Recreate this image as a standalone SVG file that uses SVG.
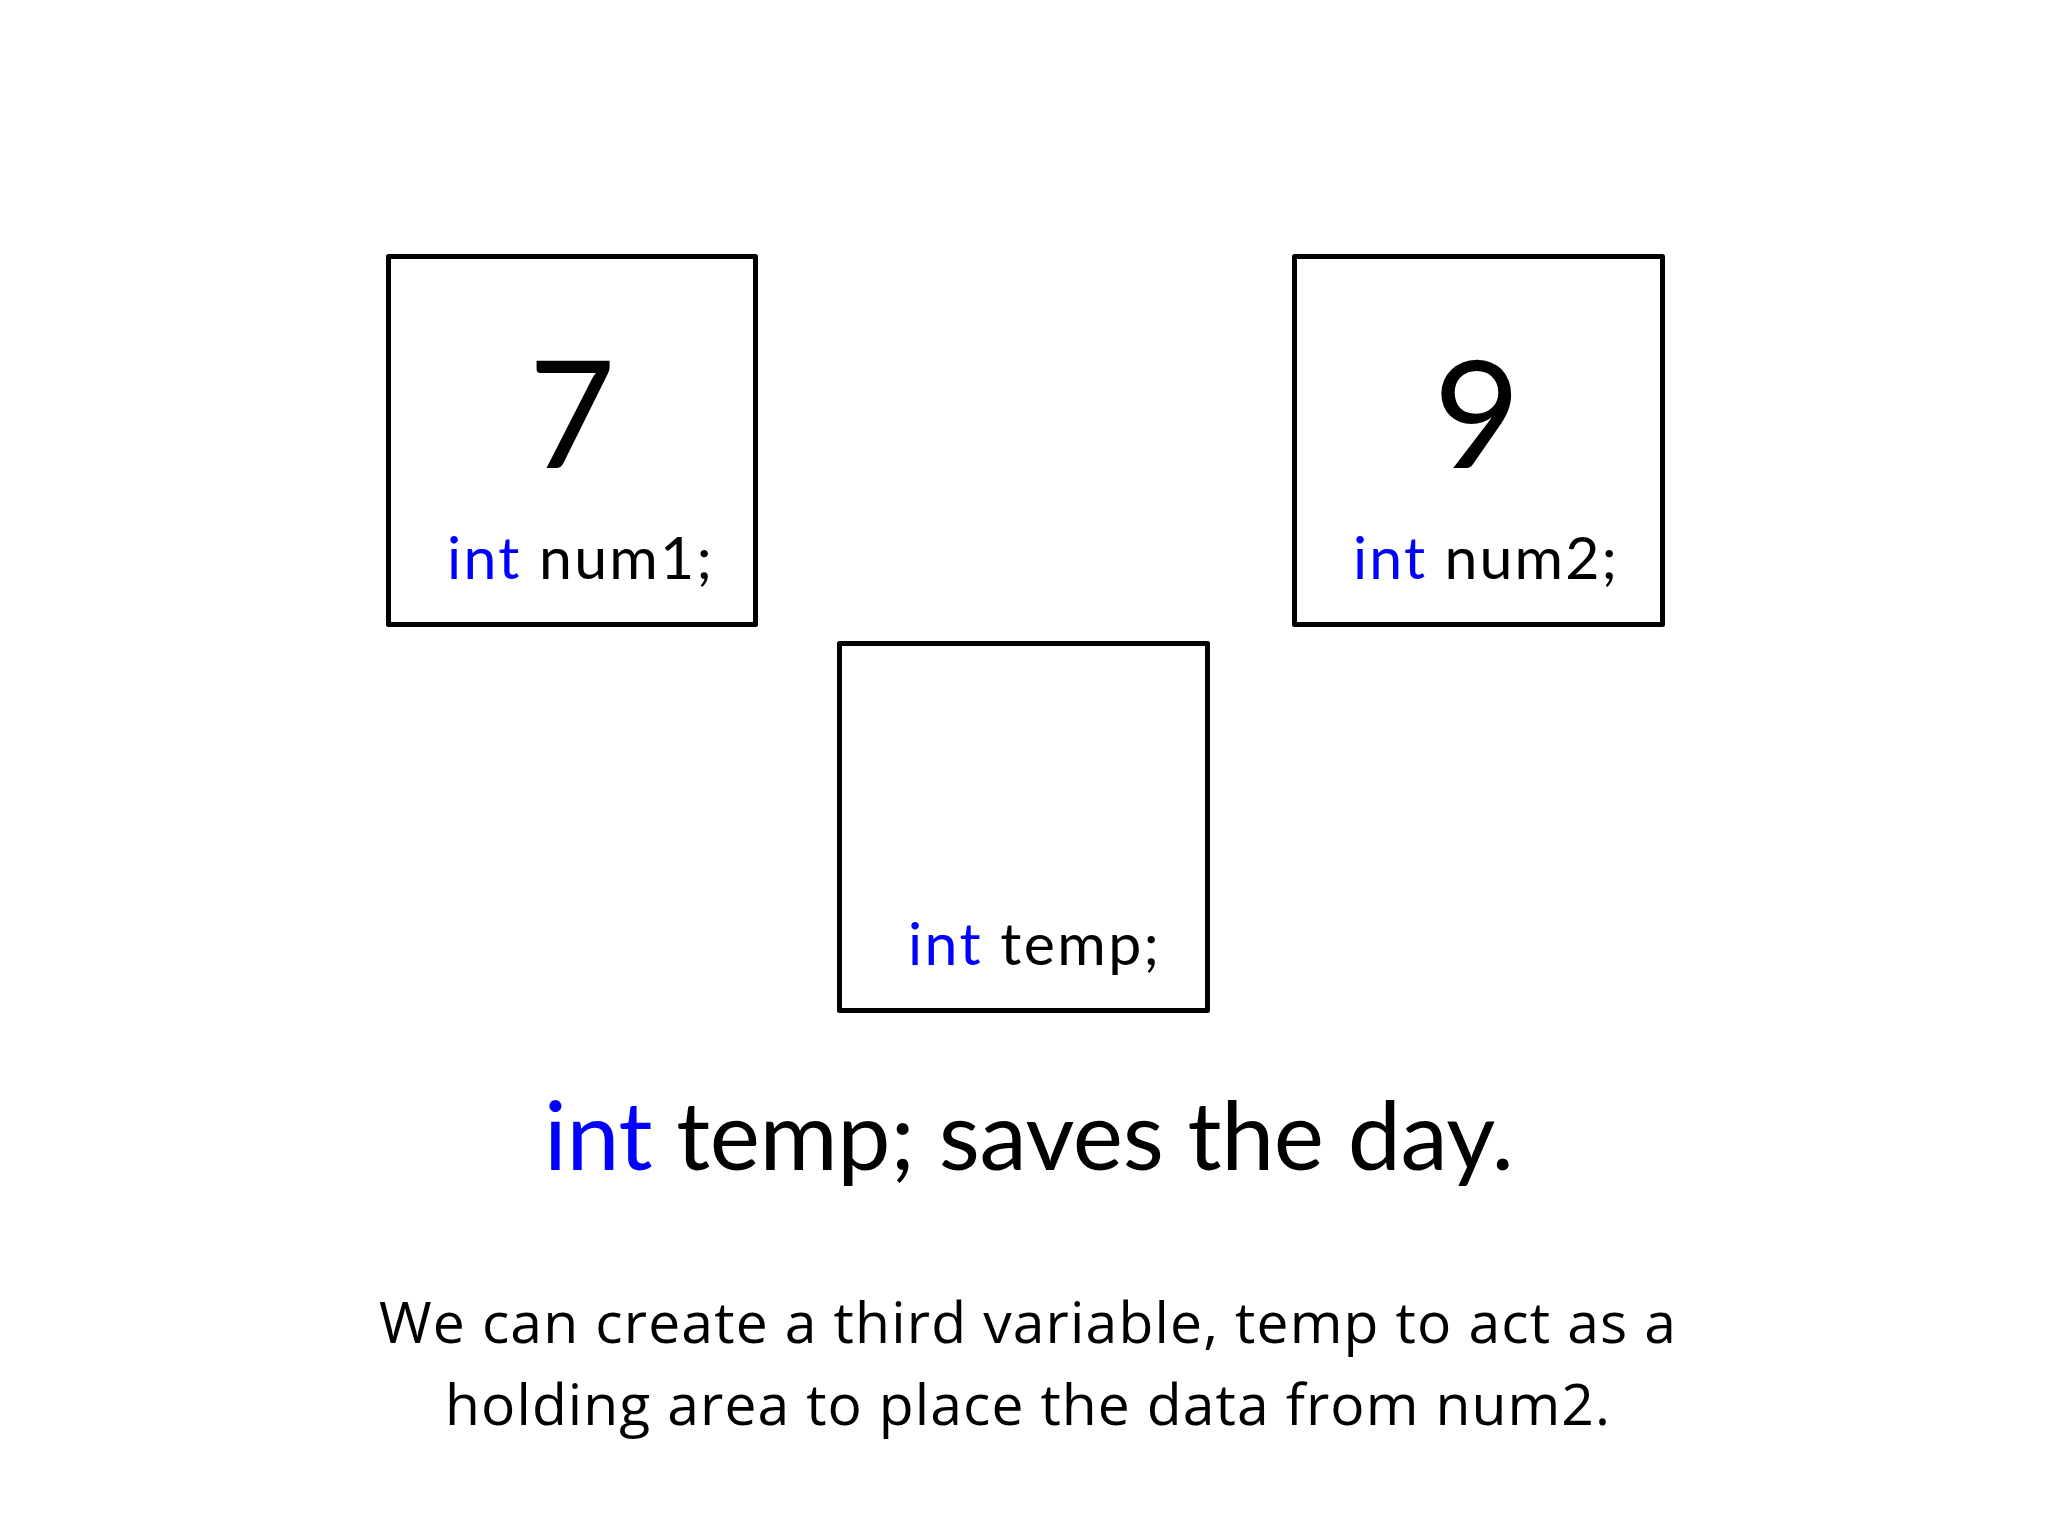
<svg xmlns="http://www.w3.org/2000/svg" width="2048" height="1536" viewBox="0 0 2048 1536">
<style>
.box{fill:none;stroke:#000;stroke-width:5;stroke-linejoin:round}
.t{font-family:Lato,"Open Sans","Liberation Sans",sans-serif;fill:#000}
.kw{fill:#0000ff}
.big{font-size:150px;text-anchor:middle}
.lbl{font-size:59px}
.title{font-size:95px}
.para{font-family:"Open Sans",Lato,"Liberation Sans",sans-serif;font-size:57px}
</style>
<rect x="0" y="0" width="2048" height="1536" fill="#fff"/>
<g id="num1">
<rect class="box" x="388.5" y="256.5" width="367" height="368"/>
<text class="t big" x="572" y="468">7</text>
<text class="t lbl" x="447" y="579" textLength="265"><tspan class="kw">int</tspan> num1;</text>
</g>
<g id="num2">
<rect class="box" x="1294.5" y="256.5" width="368" height="368"/>
<text class="t big" x="1477" y="468">9</text>
<text class="t lbl" x="1353" y="579" textLength="264"><tspan class="kw">int</tspan> num2;</text>
</g>
<g id="temp">
<rect class="box" x="839.5" y="643.5" width="368" height="367"/>
<text class="t lbl" x="908" y="965" textLength="251"><tspan class="kw">int</tspan> temp;</text>
</g>
<g id="connectors"></g>
<g id="caption">
<text class="t title" x="544" y="1170" textLength="970"><tspan class="kw">int</tspan> temp; saves the day.</text>
<text class="t para" x="379" y="1343" textLength="1297">We can create a third variable, temp to act as a</text>
<text class="t para" x="445" y="1425" textLength="1165">holding area to place the data from num2.</text>
</g>
</svg>
